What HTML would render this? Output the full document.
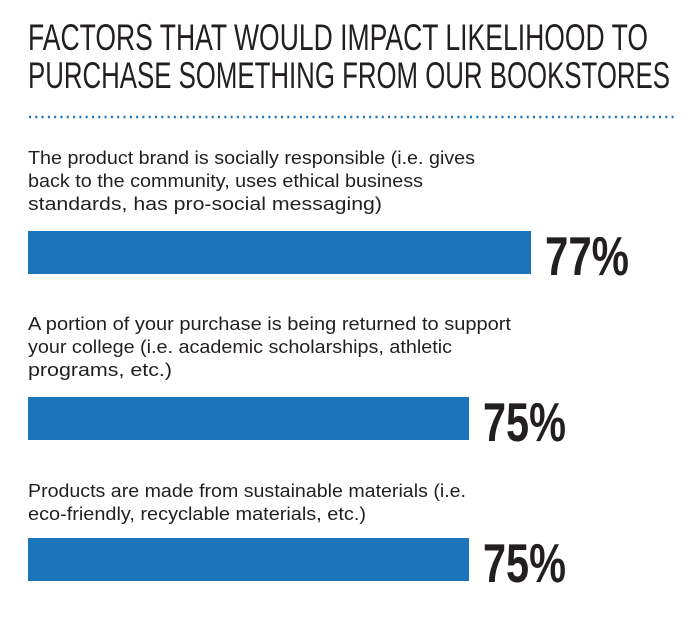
<!DOCTYPE html>
<html><head><meta charset="utf-8"><style>
html,body{margin:0;padding:0;background:#fff;}
svg{display:block}
.t{font-family:"Liberation Sans Narrow","Liberation Sans",sans-serif;font-size:37px;fill:#231f20;}
.l{font-family:"Liberation Sans",sans-serif;font-size:18.5px;fill:#231f20;}
.p{font-family:"Liberation Sans Narrow","Liberation Sans",sans-serif;font-weight:bold;font-size:55px;fill:#231f20;}
</style></head><body>
<svg width="696" height="629" viewBox="0 0 696 629" xmlns="http://www.w3.org/2000/svg">
<text class="t" x="28" y="50" textLength="620" lengthAdjust="spacingAndGlyphs">FACTORS THAT WOULD IMPACT LIKELIHOOD TO</text>
<text class="t" x="28" y="88" textLength="642" lengthAdjust="spacingAndGlyphs">PURCHASE SOMETHING FROM OUR BOOKSTORES</text>
<line x1="29" y1="117" x2="676" y2="117" stroke="#1a75bb" stroke-width="2.5" stroke-dasharray="2 4.3"/>
<text class="l" x="28" y="164" textLength="447" lengthAdjust="spacingAndGlyphs">The product brand is socially responsible (i.e. gives</text>
<text class="l" x="28" y="187" textLength="395" lengthAdjust="spacingAndGlyphs">back to the community, uses ethical business</text>
<text class="l" x="28" y="210" textLength="354" lengthAdjust="spacingAndGlyphs">standards, has pro-social messaging)</text>
<rect x="28" y="231" width="503" height="43" fill="#1a75bb"/>
<text class="p" x="545" y="275" textLength="84" lengthAdjust="spacingAndGlyphs">77%</text>
<text class="l" x="28" y="330" textLength="483" lengthAdjust="spacingAndGlyphs">A portion of your purchase is being returned to support</text>
<text class="l" x="28" y="353" textLength="424" lengthAdjust="spacingAndGlyphs">your college (i.e. academic scholarships, athletic</text>
<text class="l" x="28" y="376" textLength="144" lengthAdjust="spacingAndGlyphs">programs, etc.)</text>
<rect x="28" y="397" width="441" height="43" fill="#1a75bb"/>
<text class="p" x="483" y="441" textLength="83" lengthAdjust="spacingAndGlyphs">75%</text>
<text class="l" x="28" y="497" textLength="438" lengthAdjust="spacingAndGlyphs">Products are made from sustainable materials (i.e.</text>
<text class="l" x="28" y="520" textLength="338" lengthAdjust="spacingAndGlyphs">eco-friendly, recyclable materials, etc.)</text>
<rect x="28" y="538" width="441" height="43" fill="#1a75bb"/>
<text class="p" x="483" y="582" textLength="83" lengthAdjust="spacingAndGlyphs">75%</text>
</svg>
</body></html>
